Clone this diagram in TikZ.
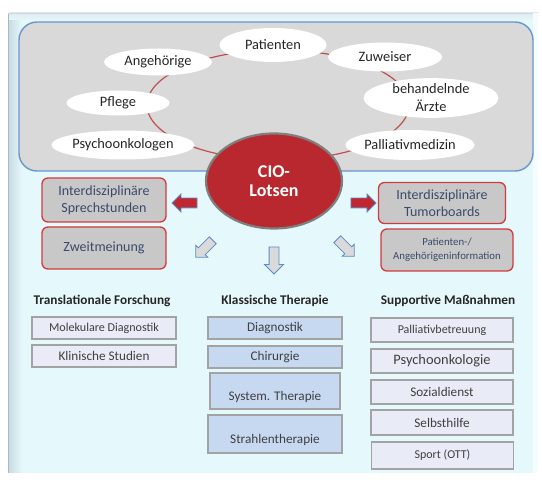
\documentclass[tikz,border=0pt]{standalone}
\usepackage{fontspec}
\setmainfont{Carlito}
\usetikzlibrary{shapes.geometric, shapes.arrows}

\definecolor{panel}{HTML}{E5F8FC}
\definecolor{paneledge}{HTML}{A4BAC3}
\definecolor{panelbevel}{HTML}{CADCE2}
\definecolor{ringgray}{HTML}{D9D9D9}
\definecolor{ringblue}{HTML}{6A96CE}
\definecolor{ringred}{HTML}{C0504D}
\definecolor{ciored}{HTML}{B9282F}
\definecolor{cioedge}{HTML}{7F7F7F}
\definecolor{boxgray}{HTML}{C8C8C8}
\definecolor{boxred}{HTML}{D43A3C}
\definecolor{boxtext}{HTML}{3B4A6B}
\definecolor{arrowred}{HTML}{C1272E}
\definecolor{arrowblue}{HTML}{5B8ACB}
\definecolor{arrowgray}{HTML}{DADADA}
\definecolor{sidefill}{HTML}{E9EBF6}
\definecolor{midfill}{HTML}{C6D9F1}
\definecolor{lowedge}{HTML}{A3A3A3}
\definecolor{lowtext}{HTML}{404040}

\tikzstyle{partner}=[ellipse, fill=white, inner sep=0pt, align=center, text=black!85, font=\fontsize{14.4}{18}\selectfont]
\tikzstyle{lotse}=[ellipse, fill=ciored, draw=cioedge, line width=2.2pt, text=white, align=center, font=\bfseries\fontsize{18}{19}\selectfont]
\tikzstyle{redbox}=[rectangle, rounded corners=6pt, draw=boxred, line width=1.3pt, fill=boxgray, inner sep=0pt, align=center, text=boxtext, font=\fontsize{14}{17}\selectfont]
\tikzstyle{redarrow}=[single arrow, draw=arrowblue, fill=arrowred, line width=0.8pt, inner xsep=0pt, inner ysep=4.5pt, minimum width=1pt, minimum height=25pt, single arrow head extend=4pt]
\tikzstyle{grayarrow}=[single arrow, draw=arrowblue, fill=arrowgray, line width=0.8pt, inner xsep=0pt, inner ysep=4.5pt, minimum width=1pt, minimum height=25pt, single arrow head extend=3.5pt]
\tikzstyle{header}=[text=black!85, font=\bfseries\fontsize{13.3}{16}\selectfont]
\tikzstyle{sidebox}=[rectangle, draw=lowedge, line width=1.4pt, fill=sidefill, inner sep=0pt, text=lowtext, font=\fontsize{13.2}{16}\selectfont]
\tikzstyle{midbox}=[sidebox, fill=midfill]

\begin{document}
\begin{tikzpicture}[x=1pt, y=-1pt]
\useasboundingbox (0,0) rectangle (542,484);
% Panel
    \fill[panel] (8,13) rectangle (538,473);
    \shade[left color=panelbevel, right color=panel] (9,13) rectangle (22,473);
    \shade[top color=panelbevel!60, bottom color=panel] (9,13) rectangle (538,20);
    \draw[paneledge, line width=1.2pt] (8.5,13) -- (8.5,473);
    \draw[panelbevel, line width=1pt] (8,13.5) -- (538,13.5);
    \fill[white!60!panel] (533,13) rectangle (538,473);
% Partner ring
    \draw[ringblue, fill=ringgray, line width=1.4pt, rounded corners=18pt] (19,22) rectangle (533,171);
    \draw[ringred, line width=1.2pt] (278,105) ellipse [x radius=131pt, y radius=55pt];
    \node[partner, minimum width=107pt, minimum height=34pt] (pat) at (273,45) {Patienten};
    \node[partner, minimum width=108pt, minimum height=27pt] (ang) at (158,62) {Angehörige};
    \node[partner, minimum width=114pt, minimum height=29pt] (zuw) at (385,57) {Zuweiser};
    \node[partner, minimum width=135pt, minimum height=38pt] (arz) at (431,98) {behandelnde\\Ärzte};
    \node[partner, minimum width=103pt, minimum height=25pt] (pfl) at (118,103) {Pflege};
    \node[partner, minimum width=128pt, minimum height=29pt] (psy) at (123,145) {Psychoonkologen};
    \node[partner, minimum width=127pt, minimum height=30pt] (pal) at (410,145) {Palliativmedizin};
% Lotsen
    \node[lotse, minimum width=136pt, minimum height=95pt] (cio) at (274,181) {CIO-\\Lotsen};
    \node[redbox, minimum width=124pt, minimum height=44pt] (spr) at (104,200) {Interdisziplinäre\\Sprechstunden};
    \node[redbox, minimum width=124pt, minimum height=42pt] (zwm) at (104,248) {Zweitmeinung};
    \node[redbox, minimum width=127pt, minimum height=41pt] (tum) at (442,203) {Interdisziplinäre\\Tumorboards};
    \node[redbox, minimum width=132pt, minimum height=42pt, font=\fontsize{10.8}{14}\selectfont] (inf) at (447,250) {Patienten-/\\Angehörigeninformation};
    \node[redarrow, rotate=180] (toSpr) at (187,203) {};
    \node[redarrow] (toTum) at (361,203) {};
    \node[grayarrow, rotate=225, minimum height=24pt] (toFor) at (206,247) {};
    \node[grayarrow, rotate=270, minimum height=27pt, single arrow head extend=4.5pt] (toThe) at (274,258) {};
    \node[grayarrow, rotate=315, minimum height=24pt] (toSup) at (344,246) {};
% Columns
    \node[header] (forH) at (102,301) {Translationale Forschung};
    \node[header] (theH) at (275,301) {Klassische Therapie};
    \node[header] (supH) at (448,301) {Supportive Maßnahmen};
    \node[sidebox, minimum width=144pt, minimum height=22pt, font=\fontsize{12.1}{15}\selectfont] (mol) at (104,328) {Molekulare Diagnostik};
    \node[sidebox, minimum width=144pt, minimum height=22pt] (kli) at (104,356) {Klinische Studien};
    \node[midbox, minimum width=134pt, minimum height=22pt] (dia) at (275,328) {Diagnostik};
    \node[midbox, minimum width=134pt, minimum height=22pt] (chi) at (275,357) {Chirurgie};
    \node[midbox, minimum width=130pt, minimum height=36pt] (sys) at (275,391) {};
    \node[midbox, minimum width=134pt, minimum height=38pt] (str) at (275,434) {};
    \node[text=lowtext, font=\fontsize{13.2}{16}\selectfont] at (275,397) {System. Therapie};
    \node[text=lowtext, font=\fontsize{13.2}{16}\selectfont] at (275,440) {Strahlentherapie};
    \node[sidebox, minimum width=142pt, minimum height=24pt, font=\fontsize{12}{15}\selectfont] (pab) at (442,330) {\raisebox{-3pt}{Palliativbetreuung}};
    \node[sidebox, minimum width=142pt, minimum height=24pt, font=\fontsize{14.4}{16}\selectfont] (pso) at (442,361) {\raisebox{-2pt}{Psychoonkologie}};
    \node[sidebox, minimum width=142pt, minimum height=24pt] (soz) at (442,392) {\raisebox{-2pt}{Sozialdienst}};
    \node[sidebox, minimum width=142pt, minimum height=25pt] (seh) at (442,422.5) {\raisebox{-2pt}{Selbsthilfe}};
    \node[sidebox, minimum width=142pt, minimum height=27pt, font=\fontsize{12}{15}\selectfont] (spo) at (442.5,455.5) {\raisebox{-3pt}{Sport (OTT)}};
\end{tikzpicture}
\end{document}
